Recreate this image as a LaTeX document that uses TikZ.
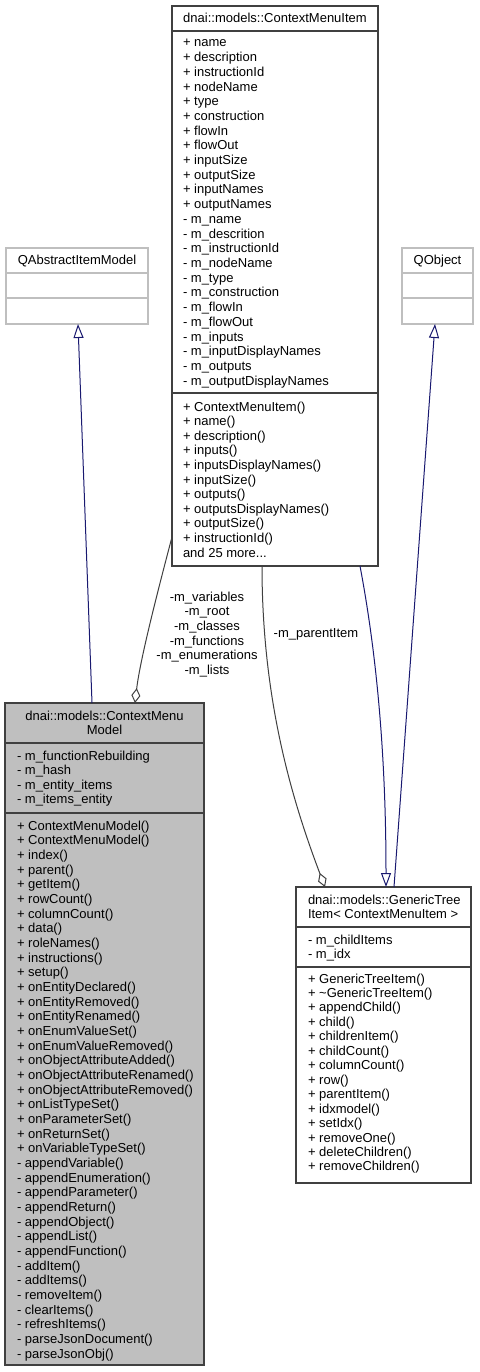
\documentclass[tikz,border=0pt]{standalone}
\usepackage{fontspec}
\setmainfont{Liberation Sans}
\usetikzlibrary{arrows.meta}
\definecolor{inhc}{HTML}{191970}
\definecolor{usec}{HTML}{404040}
\definecolor{bordc}{HTML}{404040}
\definecolor{extc}{HTML}{BFBFBF}
\definecolor{mainfill}{HTML}{BFBFBF}
\begin{document}
\begin{tikzpicture}[x=1pt,y=-1pt,
  box/.style={draw=bordc, line width=1.2pt, fill=white, rectangle, inner sep=0pt, outer sep=0pt, anchor=north west},
  extbox/.style={box, draw=extc},
  mainbox/.style={box, fill=mainfill},
  sep/.style={draw=bordc, line width=1.2pt},
  extsep/.style={draw=extc, line width=1.2pt},
  txt/.style={inner sep=0pt, outer sep=0pt, font=\fontsize{13}{14.65}\selectfont, anchor=base west},
  ctxt/.style={txt, anchor=base},
  inh/.style={draw=inhc, line width=1pt, -{Triangle[open, length=14pt, width=10pt, line width=1pt]}},
  use/.style={draw=usec, line width=1pt, -{Diamond[open, length=15pt, width=9pt, line width=1pt]}},
]
\fill[white] (0,0) rectangle (479,1372);
\useasboundingbox (0,0) rectangle (479,1372);

% QAbstractItemModel
\node[extbox, minimum width=142pt, minimum height=76pt] (qaim) at (6,248) {};
\draw[extsep] (6,273) -- (148,273) (6,298) -- (148,298);
\node[ctxt] (qaim-t) at (77,265) {QAbstractItemModel};

% QObject
\node[extbox, minimum width=71pt, minimum height=76pt] (qobj) at (402,248) {};
\draw[extsep] (402,273) -- (473,273) (402,298) -- (473,298);
\node[ctxt] (qobj-t) at (437.5,265) {QObject};

% ContextMenuItem
\node[box, minimum width=206pt, minimum height=560pt] (cmi) at (172,6) {};
\draw[sep] (172,31) -- (378,31) (172,393) -- (378,393);
\node[ctxt] (cmi-t) at (275,23) {dnai::models::ContextMenuItem};
\foreach \s [count=\i from 0] in {+ name, + description, + instructionId, + nodeName, + type, + construction, + flowIn, + flowOut, + inputSize, + outputSize, + inputNames, + outputNames, - m\_name, - m\_descrition, - m\_instructionId, - m\_nodeName, - m\_type, - m\_construction, - m\_flowIn, - m\_flowOut, - m\_inputs, - m\_inputDisplayNames, - m\_outputs, - m\_outputDisplayNames}
  \node[txt] (cmi-a\i) at (183,47+\i*14.7) {\s};
\foreach \s [count=\i from 0] in {+ ContextMenuItem(), + name(), + description(), + inputs(), + inputsDisplayNames(), + inputSize(), + outputs(), + outputsDisplayNames(), + outputSize(), + instructionId(), and 25 more{.}{.}{.}}
  \node[txt] (cmi-m\i) at (183,411+\i*14.6) {\s};

% ContextMenuModel
\node[mainbox, minimum width=199pt, minimum height=662pt] (cmm) at (5,703) {};
\draw[sep] (5,743) -- (204,743) (5,813) -- (204,813);
\node[ctxt] (cmm-t1) at (104.5,720) {dnai::models::ContextMenu};
\node[ctxt] (cmm-t2) at (104.5,734.65) {Model};
\foreach \s [count=\i from 0] in {- m\_functionRebuilding, - m\_hash, - m\_entity\_items, - m\_items\_entity}
  \node[txt] (cmm-a\i) at (17,760+\i*14.65) {\s};
\foreach \s [count=\i from 0] in {+ ContextMenuModel(), + ContextMenuModel(), + index(), + parent(), + getItem(), + rowCount(), + columnCount(), + data(), + roleNames(), + instructions(), + setup(), + onEntityDeclared(), + onEntityRemoved(), + onEntityRenamed(), + onEnumValueSet(), + onEnumValueRemoved(), + onObjectAttributeAdded(), + onObjectAttributeRenamed(), + onObjectAttributeRemoved(), + onListTypeSet(), + onParameterSet(), + onReturnSet(), + onVariableTypeSet(), - appendVariable(), - appendEnumeration(), - appendParameter(), - appendReturn(), - appendObject(), - appendList(), - appendFunction(), - addItem(), - addItems(), - removeItem(), - clearItems(), - refreshItems(), - parseJsonDocument(), - parseJsonObj()}
  \node[txt] (cmm-m\i) at (17,830+\i*14.67) {\s};

% GenericTreeItem
\node[box, minimum width=175pt, minimum height=296pt] (gti) at (296,887) {};
\draw[sep] (296,927) -- (471,927) (296,967) -- (471,967);
\node[txt] (gti-t1) at (308,904) {dnai::models::GenericTree};
\node[txt] (gti-t2) at (308,918.65) {Item< ContextMenuItem >};
\foreach \s [count=\i from 0] in {- m\_childItems, - m\_idx}
  \node[txt] (gti-a\i) at (308,944+\i*14.65) {\s};
\foreach \s [count=\i from 0] in {+ GenericTreeItem(), + \textasciitilde GenericTreeItem(), + appendChild(), + child(), + childrenItem(), + childCount(), + columnCount(), + row(), + parentItem(), + idxmodel(), + setIdx(), + removeOne(), + deleteChildren(), + removeChildren()}
  \node[txt] (gti-m\i) at (308,983+\i*14.46) {\s};

% inheritance
\draw[inh] ([xshift=-12.5pt]cmm.north) -- ([xshift=1pt]qaim.south);
\draw[inh] ([xshift=10.5pt]gti.north) -- ([xshift=-2.5pt]qobj.south);
\draw[inh] ([xshift=85pt]cmi.south) .. controls (374,640) and (386,740) .. ([xshift=2.5pt]gti.north);

% usage
\draw[use] ([yshift=-251pt]cmi.west) .. controls (158,590) and (140,660) .. ([xshift=30.5pt]cmm.north);
\draw[use] ([xshift=-13pt]cmi.south) .. controls (262,700) and (292,800) .. ([xshift=-58.5pt]gti.north);

% labels
\foreach \s [count=\i from 0] in {-m\_variables, -m\_root, -m\_classes, -m\_functions, -m\_enumerations, -m\_lists}
  \node[ctxt] (lbl\i) at (207,601+\i*14.67) {\s};
\node[ctxt] (lblp) at (316,637) {-m\_parentItem};
\end{tikzpicture}
\end{document}
